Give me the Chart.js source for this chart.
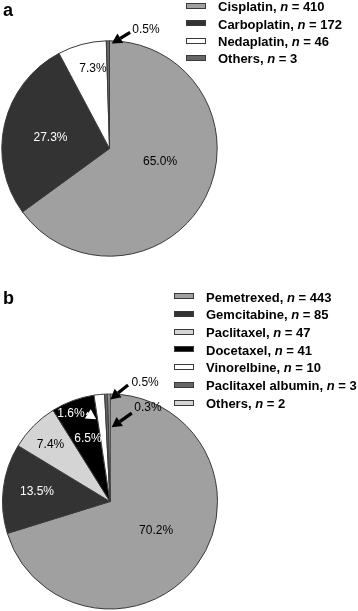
<!DOCTYPE html>
<html><head><meta charset="utf-8">
<script src="https://cdn.jsdelivr.net/npm/chart.js@4"></script>
<style>
html,body{margin:0;padding:0;background:#fff;width:358px;height:611px;overflow:hidden;font-family:"Liberation Sans",Arial,sans-serif;}
.wrap{position:absolute;left:0;width:358px;}
#wrapA{top:0;height:297px;}
#wrapB{top:300px;height:311px;}
.panel{position:absolute;font-weight:bold;font-size:18px;line-height:20px;color:#000;}
.leg{position:absolute;font-weight:bold;font-size:13px;line-height:15px;white-space:nowrap;color:#000;}
.box{position:absolute;width:18px;height:4px;border:1px solid #3a3a3a;}
</style></head>
<body>
<div class="wrap" id="wrapA"><canvas id="chartA"></canvas></div>
<div class="wrap" id="wrapB"><canvas id="chartB"></canvas></div>
<div class="panel" style="left:3px;top:0px;">a</div>
<div class="panel" style="left:3px;top:288px;">b</div>
<div id="legendA"></div>
<div id="legendB"></div>
<script>
// ---- data ----
const drugsA = ['Cisplatin', 'Carboplatin', 'Nedaplatin', 'Others'];
const countsA = [410, 172, 46, 3];
const colorsA = ['#a0a0a0', '#333333', '#ffffff', '#666666'];

const drugsB = ['Pemetrexed', 'Gemcitabine', 'Paclitaxel', 'Docetaxel', 'Vinorelbine', 'Paclitaxel albumin', 'Others'];
const countsB = [443, 85, 47, 41, 10, 3, 2];
const colorsB = ['#a0a0a0', '#333333', '#d4d4d4', '#000000', '#ffffff', '#666666', '#d4d4d4'];

// label placement (polar, relative to each slice's mid angle): [shiftDeg, radiusFraction, textColor]
const labelPosA = [[-12.3, 0.485, '#000'], [-2.5, 0.557, '#fff'], [3.2, 0.761, '#000'], [18, 1.15, '#000']];
const arrowsA = [null, null, null, {tail: [10.9, 1.096], tip: [2.1, 0.975], color: '#000'}];

const labelPosB = [[-4.2, 0.506, '#000'], [0.4, 0.685, '#fff'], [-1.1, 0.763, '#000'], [0.9, 0.617, '#fff'],
                   [-18.3, 0.891, '#fff'], [18.5, 1.15, '#000'], [22.7, 0.939, '#000']];
const arrowsB = [null, null, null, null,
                 {tail: [-9.1, 0.85], tip: [-3.8, 0.775], color: '#fff'},
                 {tail: [10.8, 1.097], tip: [2.2, 0.95], color: '#000'},
                 {tail: [14.4, 0.847], tip: [1.8, 0.69], color: '#000'}];

function drawArrow(ctx, x1, y1, x2, y2, color) {
  const ang = Math.atan2(y2 - y1, x2 - x1);
  const head = 10, hw = 5.5;
  const bx = x2 - Math.cos(ang) * head, by = y2 - Math.sin(ang) * head;
  ctx.save();
  ctx.strokeStyle = color; ctx.fillStyle = color;
  ctx.lineWidth = 3.2; ctx.lineCap = 'butt';
  ctx.beginPath(); ctx.moveTo(x1, y1); ctx.lineTo(bx, by); ctx.stroke();
  ctx.beginPath();
  ctx.moveTo(x2, y2);
  ctx.lineTo(bx + Math.sin(ang) * hw, by - Math.cos(ang) * hw);
  ctx.lineTo(bx - Math.sin(ang) * hw, by + Math.cos(ang) * hw);
  ctx.closePath(); ctx.fill();
  ctx.restore();
}

function makeLabelPlugin(labelPos, arrows) {
  return {
    id: 'sliceLabels',
    afterDatasetsDraw(chart) {
      const ctx = chart.ctx;
      const meta = chart.getDatasetMeta(0);
      const data = chart.data.datasets[0].data;
      const total = data.reduce((a, b) => a + b, 0);
      const pt = (arc, shiftDeg, frac) => {
        const p = arc.getProps(['x', 'y', 'startAngle', 'endAngle', 'outerRadius'], true);
        const a = (p.startAngle + p.endAngle) / 2 + shiftDeg * Math.PI / 180;
        return {x: p.x + Math.cos(a) * p.outerRadius * frac, y: p.y + Math.sin(a) * p.outerRadius * frac};
      };
      meta.data.forEach((arc, i) => {
        const ar = arrows[i];
        if (ar) {
          const t = pt(arc, ar.tail[0], ar.tail[1]);
          const h = pt(arc, ar.tip[0], ar.tip[1]);
          drawArrow(ctx, t.x, t.y, h.x, h.y, ar.color);
        }
      });
      ctx.save();
      ctx.font = '12px "Liberation Sans", Arial, sans-serif';
      ctx.textAlign = 'center';
      ctx.textBaseline = 'middle';
      meta.data.forEach((arc, i) => {
        const lp = labelPos[i];
        const p = pt(arc, lp[0], lp[1]);
        ctx.fillStyle = lp[2];
        ctx.fillText((data[i] / total * 100).toFixed(1) + '%', p.x, p.y);
      });
      ctx.restore();
    }
  };
}

function makePie(id, labels, values, colors, padding, radius, labelPos, arrows) {
  return new Chart(document.getElementById(id), {
    type: 'pie',
    data: {labels: labels, datasets: [{data: values, backgroundColor: colors, borderColor: '#3a3a3a', borderWidth: 1}]},
    options: {
      responsive: true, maintainAspectRatio: false, animation: false,
      radius: radius,
      layout: {padding: padding},
      plugins: {legend: {display: false}, tooltip: {enabled: false}}
    },
    plugins: [makeLabelPlugin(labelPos, arrows)]
  });
}

function buildLegend(elId, labels, values, colors, boxLeft, textLeft, firstCenter, step) {
  const el = document.getElementById(elId);
  labels.forEach((lab, i) => {
    const c = firstCenter + i * step;
    const b = document.createElement('div');
    b.className = 'box';
    b.style.left = boxLeft + 'px'; b.style.top = (c - 3) + 'px';
    b.style.background = colors[i];
    el.appendChild(b);
    const t = document.createElement('div');
    t.className = 'leg';
    t.style.left = textLeft + 'px'; t.style.top = (c - 6.8) + 'px';
    t.innerHTML = lab + ', <i>n</i> = ' + values[i];
    el.appendChild(t);
  });
}

makePie('chartA', drugsA, countsA, colorsA, {left: 0, right: 139, top: 0, bottom: 0}, 107.7, labelPosA, arrowsA);
makePie('chartB', drugsB, countsB, colorsB, {left: 0, right: 138, top: 92, bottom: 0}, 107.5, labelPosB, arrowsB);
buildLegend('legendA', drugsA, countsA, colorsA, 186, 218, 6, 17.4);
buildLegend('legendB', drugsB, countsB, colorsB, 174, 206, 296.3, 17.7);
</script>
</body></html>
